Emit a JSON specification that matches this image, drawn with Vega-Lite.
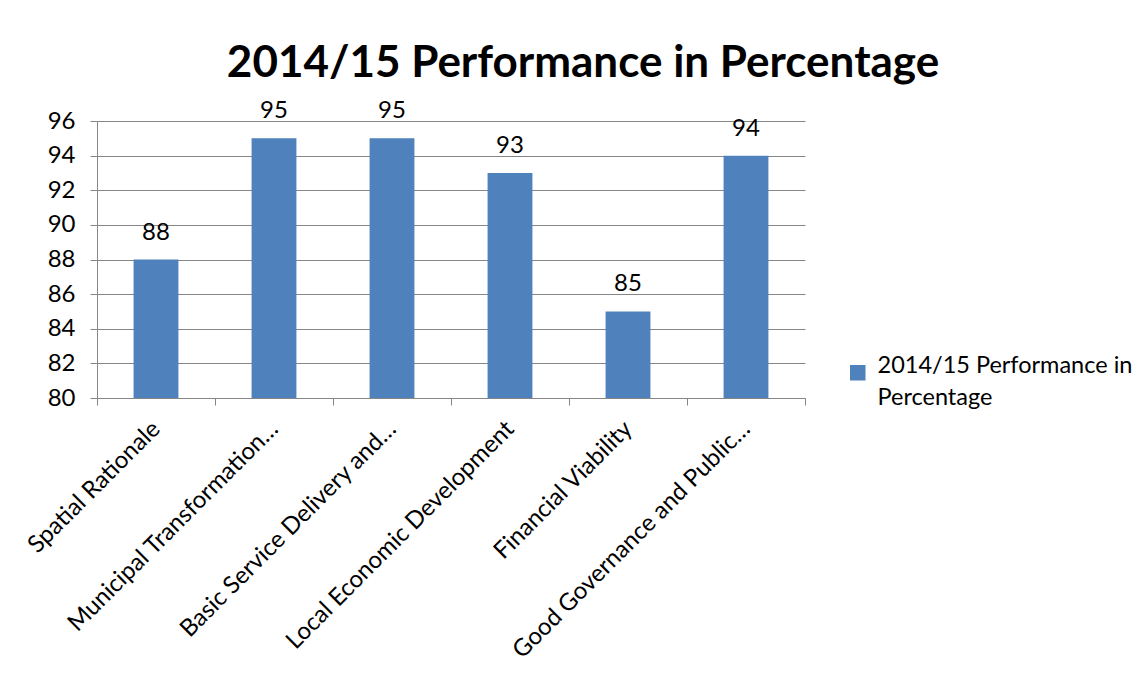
{
  "$schema": "https://vega.github.io/schema/vega-lite/v6.json",
  "width": 708,
  "height": 277,
  "autosize": {"type": "none"},
  "padding": {"left": 97, "top": 121, "right": 340, "bottom": 279},
  "background": "white",
  "title": {
    "text": "2014/15 Performance in Percentage",
    "font": "Lato",
    "fontSize": 44,
    "fontWeight": "bold",
    "color": "black",
    "anchor": "middle",
    "frame": "group",
    "dx": 132,
    "offset": 13
  },
  "data": {
    "values": [
      {"category": "Spatial Rationale", "value": 88, "series": "2014/15 Performance in Percentage"},
      {"category": "Municipal Transformation…", "value": 95, "series": "2014/15 Performance in Percentage"},
      {"category": "Basic Service Delivery and…", "value": 95, "series": "2014/15 Performance in Percentage"},
      {"category": "Local Economic Development", "value": 93, "series": "2014/15 Performance in Percentage"},
      {"category": "Financial Viability", "value": 85, "series": "2014/15 Performance in Percentage"},
      {"category": "Good Governance and Public…", "value": 94, "series": "2014/15 Performance in Percentage"}
    ]
  },
  "encoding": {
    "x": {
      "field": "category",
      "type": "nominal",
      "sort": null,
      "scale": {"paddingInner": 0, "paddingOuter": 0},
      "axis": {
        "title": null,
        "labelAngle": -45,
        "labelAlign": "right",
        "labelBaseline": "middle",
        "labelFont": "Lato",
        "labelFontSize": 24,
        "labelColor": "black",
        "labelPadding": 20,
        "labelLimit": 400,
        "tickBand": "extent",
        "tickSize": 7,
        "tickColor": "#868686",
        "domainColor": "#868686",
        "grid": false
      }
    },
    "y": {
      "field": "value",
      "type": "quantitative",
      "scale": {"domain": [80, 96], "nice": false, "zero": false},
      "axis": {
        "title": null,
        "values": [80, 82, 84, 86, 88, 90, 92, 94, 96],
        "labelFont": "Lato",
        "labelFontSize": 24,
        "labelColor": "black",
        "labelPadding": 15,
        "tickSize": 7,
        "tickColor": "#868686",
        "domainColor": "#868686",
        "gridColor": "#868686",
        "gridWidth": 1
      }
    }
  },
  "layer": [
    {
      "mark": {"type": "bar", "color": "#4F81BD", "clip": true, "width": {"band": 0.38}},
      "encoding": {
        "color": {
          "field": "series",
          "type": "nominal",
          "scale": {"range": ["#4F81BD"]},
          "legend": {
            "title": null,
            "orient": "none",
            "legendX": 749,
            "legendY": 240,
            "symbolType": "square",
            "symbolSize": 240,
            "symbolStrokeWidth": 0,
            "labelFont": "Lato",
            "labelFontSize": 23.5,
            "labelColor": "black",
            "labelBaseline": "alphabetic",
            "labelOffset": 8,
            "labelLimit": 400,
            "labelExpr": "['2014/15 Performance in', 'Percentage']"
          }
        }
      }
    },
    {
      "mark": {"type": "text", "dy": -27, "font": "Lato", "fontSize": 24, "color": "black"},
      "encoding": {"text": {"field": "value", "type": "quantitative"}}
    }
  ],
  "config": {
    "view": {"stroke": null},
    "style": {"guide-label": {"lineHeight": 32}}
  }
}
